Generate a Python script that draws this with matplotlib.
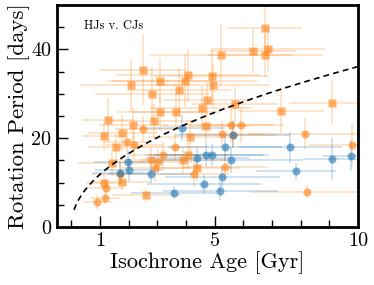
import numpy as np
import matplotlib
matplotlib.use("Agg")
import matplotlib.pyplot as plt

# ---- data ----
# CJs (square markers)
sq_age = [1.28, 2.16, 1.16, 1.78, 1.57, 1.44, 1.13, 1.78, 2.62, 3.11, 3.67, 4.55, 2.90, 4.69,
          4.13, 3.90, 4.06, 4.38, 7.31, 9.08, 2.49, 2.10, 2.82, 5.21, 4.07, 3.97, 4.90, 4.93,
          3.10, 3.77, 4.72, 5.73, 6.75, 6.35, 6.86, 6.75]
sq_age_err = [0.9, 1.2, 0.8, 1.2, 1.0, 1.2, 0.6, 1.0, 1.2, 1.5, 1.5, 1.8, 1.5, 1.5,
              1.5, 1.5, 1.5, 1.5, 1.5, 1.5, 1.5, 1.8, 2.0, 2.5, 2.5, 2.5, 2.0, 2.0,
              1.8, 1.8, 1.5, 1.5, 1.3, 1.5, 2.0, 2.0]
sq_prot = [24.1, 23.0, 20.4, 21.2, 18.0, 14.4, 10.0, 10.2, 7.1, 25.9, 26.0, 26.8, 23.8, 22.8,
           20.2, 15.1, 16.2, 13.3, 26.2, 27.9, 35.4, 32.0, 30.0, 38.8, 34.2, 33.0, 34.0, 31.9,
           33.0, 30.9, 28.7, 27.6, 44.8, 39.7, 40.0, 38.8]
sq_prot_err = [5, 4, 3, 4, 3, 3, 2, 2, 1.5, 4, 4, 5, 4, 4,
               4, 3, 3, 3, 5, 5, 8, 6, 6, 7, 6, 6, 6, 5,
               5, 5, 4, 4, 5, 5, 5, 5]

# CJs (circle markers)
cj_age = [2.52, 1.93, 2.20, 2.80, 1.22, 1.19, 0.91, 5.58, 5.92, 5.27, 3.62, 3.20, 3.02, 5.35,
          4.29, 2.94, 8.16, 9.81, 8.23, 1.71, 5.63]
cj_age_err = [1.0, 0.8, 1.0, 1.2, 0.6, 0.5, 0.5, 1.5, 1.5, 1.5, 1.2, 1.2, 1.2, 1.5,
              1.2, 1.2, 2.0, 1.5, 2.0, 1.0, 1.5]
cj_prot = [22.1, 19.1, 18.5, 15.0, 8.8, 6.6, 5.6, 23.0, 23.0, 20.9, 18.1, 16.2, 14.6, 13.5,
           12.0, 13.2, 21.0, 18.4, 7.9, 12.0, 20.8]
cj_prot_err = [3, 3, 3, 3, 2, 1.5, 1.5, 4, 4, 3, 3, 3, 3, 3,
               3, 3, 3.6, 5, 1.5, 2.5, 3]

# HJs
hj_age = [1.99, 1.71, 2.02, 2.77, 3.85, 4.39, 4.69, 4.91, 5.36, 5.59, 5.63, 5.27, 4.63, 5.20,
          3.58, 7.63, 9.10, 9.77, 7.85]
hj_age_err = [1.2, 1.0, 1.2, 1.5, 1.5, 1.8, 2.0, 2.0, 2.0, 2.5, 2.0, 2.0, 2.0, 2.0,
              1.5, 1.8, 1.0, 1.0, 1.4]
hj_prot = [14.6, 12.1, 12.9, 11.9, 22.3, 15.5, 16.3, 16.2, 17.9, 15.1, 20.8, 11.2, 9.6, 8.1,
           7.7, 18.0, 15.4, 16.0, 12.5]
hj_prot_err = [2.5, 2.5, 2.5, 2, 3, 2.5, 2.5, 2.5, 3, 3, 3, 2.5, 2, 2,
               1.5, 3.5, 4.8, 3.5, 2]

# gyrochronology relation
gyro_coef = 11.8
gyro_index = 0.486

# ---- plot ----
plt.rcParams['font.family'] = 'cmr10'
plt.rcParams['axes.unicode_minus'] = False
plt.rcParams['mathtext.fontset'] = 'cm'

fig = plt.figure(figsize=(3.74, 2.85), dpi=100)
ax = fig.add_axes([0.152, 0.204, 0.805, 0.778])

orange = '#ff7f0e'
blue = '#1f77b4'

ax.errorbar(sq_age, sq_prot, xerr=sq_age_err, yerr=sq_prot_err, fmt='none',
            ecolor=orange, alpha=0.25, elinewidth=1.2)
ax.errorbar(cj_age, cj_prot, xerr=cj_age_err, yerr=cj_prot_err, fmt='none',
            ecolor=orange, alpha=0.25, elinewidth=1.2)
ax.errorbar(hj_age, hj_prot, xerr=hj_age_err, yerr=hj_prot_err, fmt='none',
            ecolor=blue, alpha=0.25, elinewidth=1.2)

ax.plot(sq_age, sq_prot, 's', color=orange, alpha=0.6, ms=5.2, mec='none')
ax.plot(cj_age, cj_prot, 'o', color=orange, alpha=0.6, ms=5.8, mec='none')
ax.plot(hj_age, hj_prot, 'o', color=blue, alpha=0.6, ms=5.8, mec='none')

t = np.linspace(0.1, 10, 300)
ax.plot(t, gyro_coef * t ** gyro_index, 'k--', lw=1.2, dashes=(3.5, 2.5))

ax.set_xlim(-0.5, 10)
ax.set_ylim(0, 50)
ax.set_xticks([1, 5, 10])
ax.set_xticklabels(['1', '5', '10'])
ax.set_xticks(np.arange(0, 10, 1), minor=True)
ax.set_yticks([0, 20, 40])
ax.set_yticks(np.arange(0, 50, 5), minor=True)
ax.tick_params(which='major', direction='in', length=8, width=1, labelsize=14.5, pad=4)
ax.tick_params(which='minor', direction='in', length=5, width=1)
for s in ax.spines.values():
    s.set_linewidth(2.0)

ax.set_xlabel('Isochrone Age [Gyr]', fontsize=16, labelpad=1)
ax.set_ylabel('Rotation Period [days]', fontsize=16.5, labelpad=1)
ax.text(0.09, 0.905, 'HJs v. CJs', transform=ax.transAxes, fontsize=9,
        va='center', ha='left')

fig.savefig('out.png', dpi=100)
